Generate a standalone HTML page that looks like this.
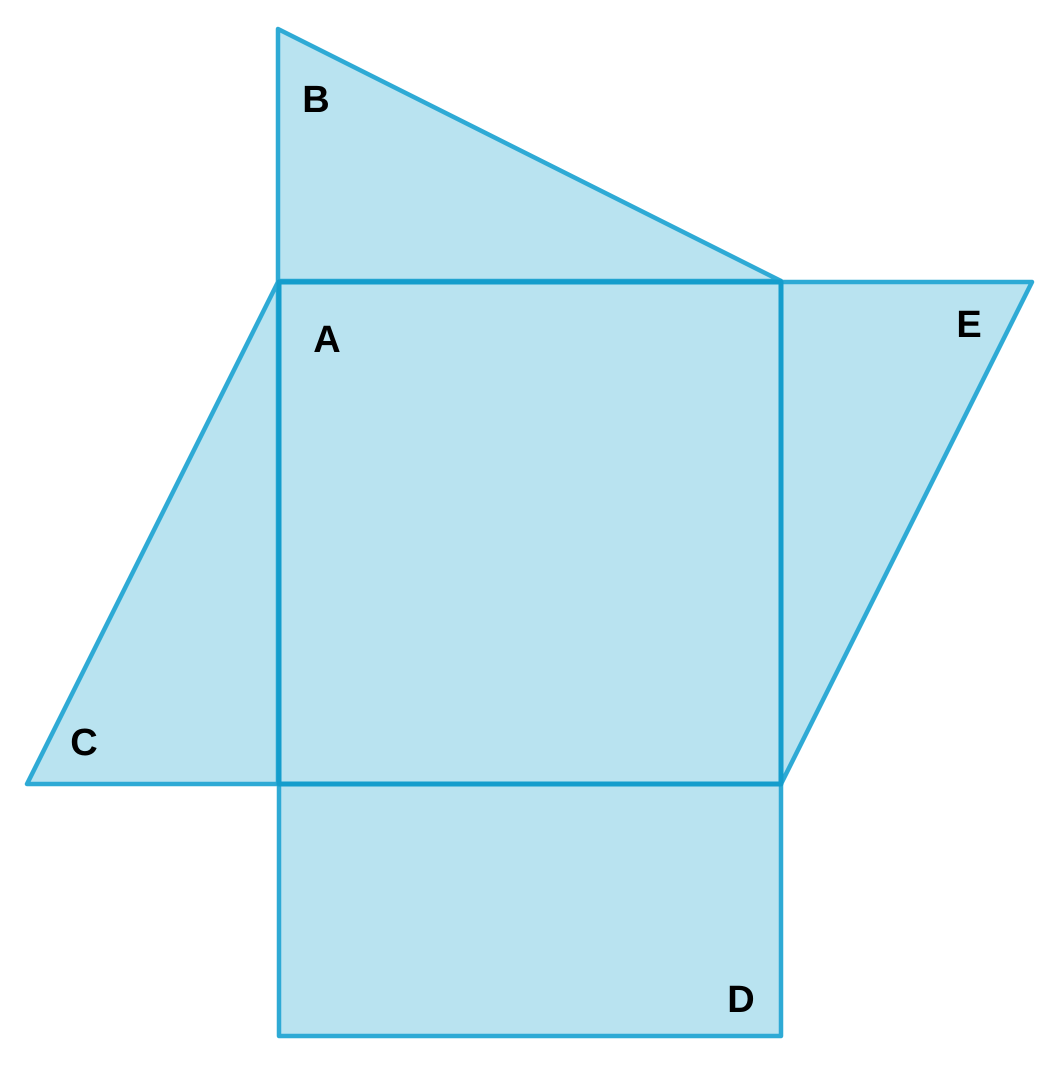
<!DOCTYPE html>
<html>
<head>
<meta charset="utf-8">
<style>
  html,body{margin:0;padding:0;background:#fff;}
  svg{display:block;}
  text{font-family:"Liberation Sans",sans-serif;font-weight:bold;font-size:38px;fill:#000;}
</style>
</head>
<body>
<svg id="fig" width="1058" height="1072" viewBox="0 0 1058 1072" xmlns="http://www.w3.org/2000/svg"></svg>
<script>
const shapeNames = ["B", "C", "E", "D", "A"];
const shapeB = [[278,29],[781,281],[278,281]];
const shapeC = [[278,282],[27,784],[278,784]];
const shapeE = [[781,282],[1032,282],[781,784]];
const shapeD = [[279,784],[781,784],[781,1036],[279,1036]];
const shapeA = [[279,282],[781,282],[781,784],[279,784]];
const labelB = [316,112];
const labelC = [84,755];
const labelE = [969,337];
const labelD = [741,1012];
const labelA = [327,352];

const svg = document.getElementById('fig');
const NS = 'http://www.w3.org/2000/svg';
const shapes = {B:shapeB, C:shapeC, E:shapeE, D:shapeD, A:shapeA};
const labels = {B:labelB, C:labelC, E:labelE, D:labelD, A:labelA};

shapeNames.forEach(n => {
  const p = document.createElementNS(NS, 'polygon');
  p.setAttribute('points', shapes[n].map(v => v.join(',')).join(' '));
  p.setAttribute('fill', '#b9e3f0');
  p.setAttribute('stroke', n === 'A' ? '#149dcc' : '#2eaad5');
  p.setAttribute('stroke-width', n === 'A' ? 5 : 4.5);
  p.setAttribute('stroke-linejoin', 'round');
  
  
  svg.appendChild(p);
});
shapeNames.forEach(n => {
  const t = document.createElementNS(NS, 'text');
  t.setAttribute('x', labels[n][0]);
  t.setAttribute('y', labels[n][1]);
  t.setAttribute('text-anchor', 'middle');
  t.textContent = n;
  
  
  svg.appendChild(t);
});
</script>
</body>
</html>
